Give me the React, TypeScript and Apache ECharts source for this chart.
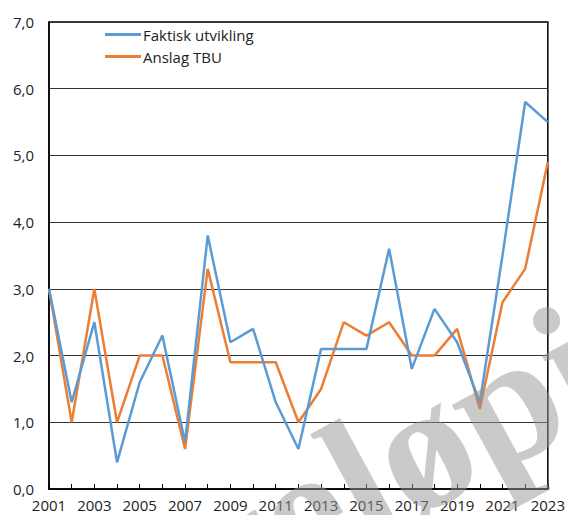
import React, { useEffect, useRef } from "react";
import * as echarts from "echarts";

const years = ["2001","2002","2003","2004","2005","2006","2007","2008","2009","2010","2011","2012","2013","2014","2015","2016","2017","2018","2019","2020","2021","2022","2023"];
const faktisk = [3.0,1.3,2.5,0.4,1.6,2.3,0.7,3.8,2.2,2.4,1.3,0.6,2.1,2.1,2.1,3.6,1.8,2.7,2.2,1.3,3.5,5.8,5.5];
const anslag = [3.0,1.0,3.0,1.0,2.0,2.0,0.6,3.3,1.9,1.9,1.9,1.0,1.5,2.5,2.3,2.5,2.0,2.0,2.4,1.2,2.8,3.3,4.9];
const seriesNames = ["Faktisk utvikling", "Anslag TBU"];
const watermark = "Foreløpig";

export default function App() {
  const ref = useRef<HTMLDivElement>(null);
  useEffect(() => {
    if (!ref.current) return;
    const chart = echarts.init(ref.current, null, { renderer: "svg" });
    const font = "'Open Sans', sans-serif";
    chart.setOption({
      animation: false,
      backgroundColor: "#fff",
      grid: { left: 49, right: 18, top: 22, bottom: 26, show: true, borderColor: "#000", borderWidth: 1.5, backgroundColor: "transparent" },
      legend: {
        orient: "vertical",
        left: 100,
        top: 22,
        itemWidth: 36,
        itemHeight: 3,
        itemGap: 7,
        icon: "rect",
        textStyle: { fontFamily: font, fontSize: 15, color: "#222", padding: [0, 0, 0, -3] },
        data: seriesNames,
      },
      xAxis: {
        type: "category",
        data: years,
        boundaryGap: false,
        axisLine: { lineStyle: { color: "#000", width: 1.5 } },
        axisTick: { show: true, inside: true, length: 5, interval: 0, lineStyle: { color: "#000" } },
        axisLabel: { interval: 1, fontFamily: font, fontSize: 15, color: "#222", margin: 8 },
        splitLine: { show: false },
      },
      yAxis: {
        type: "value",
        min: 0,
        max: 7,
        interval: 1,
        axisLine: { show: true, lineStyle: { color: "#000", width: 1.5 } },
        axisTick: { show: false },
        axisLabel: { fontFamily: font, fontSize: 15, color: "#222", margin: 15, formatter: (v: number) => v.toFixed(1).replace(".", ",") },
        splitLine: { show: true, lineStyle: { color: "#333", width: 1 } },
      },
      series: [
        { name: seriesNames[0], type: "line", data: faktisk, showSymbol: false, symbol: "none", lineStyle: { color: "#5b9bd5", width: 2.5 }, itemStyle: { color: "#5b9bd5" }, z: 3 },
        { name: seriesNames[1], type: "line", data: anslag, showSymbol: false, symbol: "none", lineStyle: { color: "#ed7d31", width: 2.5 }, itemStyle: { color: "#ed7d31" }, z: 2 },
      ],
      graphic: [
        {
          type: "text",
          x: 348,
          y: 487,
          rotation: 0.5,
          z: 100,
          silent: true,
          style: {
            text: watermark,
            font: "bold 180px 'Liberation Serif', serif",
            fill: "rgba(150,150,150,0.5)",
            align: "center",
            verticalAlign: "middle",
          },
        },
      ],
    });
    return () => chart.dispose();
  }, []);
  return <div ref={ref} style={{ width: 568, height: 515, position: "absolute", left: 0, top: 0 }} />;
}
